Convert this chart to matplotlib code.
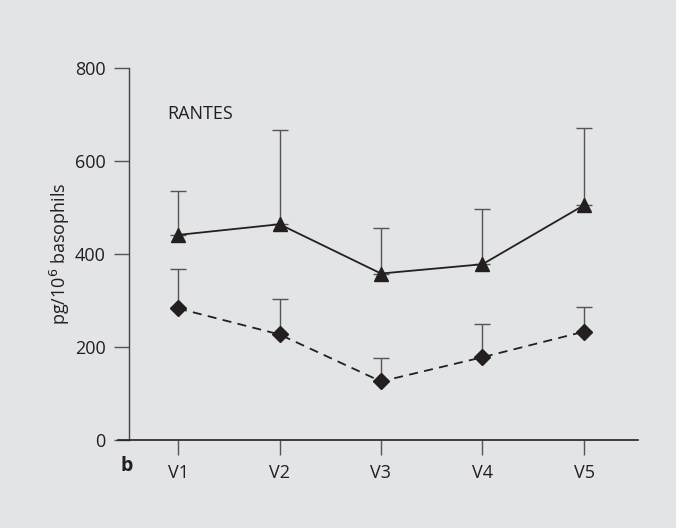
import matplotlib
matplotlib.use("Agg")
import matplotlib.pyplot as plt
import numpy as np

plt.rcParams['font.family'] = ['Open Sans', 'DejaVu Sans']

visits = ["V1", "V2", "V3", "V4", "V5"]
triangle_mean = [441, 464, 358, 378, 505]
triangle_upper = [535, 667, 456, 497, 672]
diamond_mean = [283, 227, 126, 178, 233]
diamond_upper = [367, 303, 176, 249, 285]
yticks = [0, 200, 400, 600, 800]

bg = "#e3e4e6"
ink = "#231f20"
fs = 13

fig = plt.figure(figsize=(6.76, 5.28), dpi=100, facecolor=bg)
ax = fig.add_axes([129/676, 88/528, 509/676, 372/528], facecolor=bg)

x = np.arange(1, len(visits) + 1)

def upper_err(mean, upper):
    m = np.array(mean, dtype=float)
    u = np.array(upper, dtype=float)
    return [np.zeros_like(m), u - m]

ax.errorbar(x, triangle_mean, yerr=upper_err(triangle_mean, triangle_upper),
            fmt='none', ecolor='#555555', elinewidth=1.0, capsize=5.5, capthick=1.0, zorder=2)
ax.errorbar(x, diamond_mean, yerr=upper_err(diamond_mean, diamond_upper),
            fmt='none', ecolor='#555555', elinewidth=1.0, capsize=5.5, capthick=1.0, zorder=2)

ax.plot(x, triangle_mean, '-', color=ink, lw=1.3, marker='^', markersize=9.5,
        markerfacecolor=ink, markeredgecolor=ink, zorder=3)
ax.plot(x, diamond_mean, '--', color=ink, lw=1.3, marker='D', markersize=8,
        markerfacecolor=ink, markeredgecolor=ink, dashes=(5, 3.5), zorder=3)

ax.set_xlim(1 - 49/101.5, 5 + 54/101.5)
ax.set_ylim(0, 800)
ax.set_xticks(x)
ax.set_xticklabels(visits)
ax.set_yticks(yticks)

for s in ['top', 'right']:
    ax.spines[s].set_visible(False)
ax.spines['left'].set_color('#444444')
ax.spines['bottom'].set_color(ink)
ax.spines['left'].set_linewidth(1.0)
ax.spines['bottom'].set_linewidth(1.2)
ax.spines['bottom'].set_bounds(1 - 60/101.5, 5 + 54/101.5)

ax.tick_params(axis='both', colors='#555555', labelcolor=ink, labelsize=fs,
               length=11, width=1.0)
ax.tick_params(axis='x', pad=6)
ax.tick_params(axis='y', pad=6)

ax.set_ylabel("pg/10$^6$ basophils", fontsize=fs, color=ink, labelpad=1.5)

ax.text(167, 528 - 114, "RANTES", transform=None, fontsize=fs, color=ink,
        va='center', ha='left')
fig.text(120/676, 1 - 466/528, "b", fontsize=14, fontweight='bold', color=ink,
         va='center', ha='left')

fig.savefig("out.png", dpi=100, facecolor=bg)
